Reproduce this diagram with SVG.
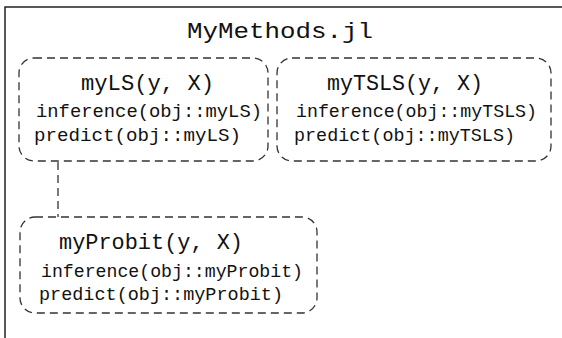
<svg xmlns="http://www.w3.org/2000/svg" width="562" height="338" viewBox="0 0 562 338">
<style>
.box{fill:none;stroke:#333;stroke-width:1.3;stroke-dasharray:8 5}
.conn{fill:none;stroke:#333;stroke-width:1.3;stroke-dasharray:8 5}
.frame{fill:none;stroke:#222;stroke-width:1.5}
text{font-family:"Liberation Mono","DejaVu Sans Mono",monospace;fill:#111}
.t{font-size:21.5px}
.m{font-size:18px}
.h{font-size:22px}
</style>
<rect width="562" height="338" fill="#fff"/>
<g id="frame">
<path class="frame" d="M5,338 V7 H562"/>
<text class="h" x="280" y="38" text-anchor="middle" textLength="186" lengthAdjust="spacingAndGlyphs">MyMethods.jl</text>
</g>
<g id="connectors">
<line class="conn" x1="58" y1="162" x2="58" y2="217"/>
</g>
<g id="myLS">
<rect class="box" x="19" y="58" width="249" height="103" rx="15"/>
<text class="t" x="81" y="90" textLength="133" lengthAdjust="spacingAndGlyphs">myLS(y, X)</text>
<text class="m" x="36" y="117" textLength="226" lengthAdjust="spacingAndGlyphs">inference(obj::myLS)</text>
<text class="m" x="34" y="141" textLength="207" lengthAdjust="spacingAndGlyphs">predict(obj::myLS)</text>
</g>
<g id="myTSLS">
<rect class="box" x="277" y="58" width="274" height="103" rx="15"/>
<text class="t" x="327" y="90" textLength="156" lengthAdjust="spacingAndGlyphs">myTSLS(y, X)</text>
<text class="m" x="296" y="117" textLength="241" lengthAdjust="spacingAndGlyphs">inference(obj::myTSLS)</text>
<text class="m" x="294" y="141" textLength="221" lengthAdjust="spacingAndGlyphs">predict(obj::myTSLS)</text>
</g>
<g id="myProbit">
<rect class="box" x="20" y="217" width="297" height="96" rx="15"/>
<text class="t" x="59" y="249" textLength="184" lengthAdjust="spacingAndGlyphs">myProbit(y, X)</text>
<text class="m" x="41" y="277" textLength="262" lengthAdjust="spacingAndGlyphs">inference(obj::myProbit)</text>
<text class="m" x="39" y="300" textLength="244" lengthAdjust="spacingAndGlyphs">predict(obj::myProbit)</text>
</g>
</svg>
